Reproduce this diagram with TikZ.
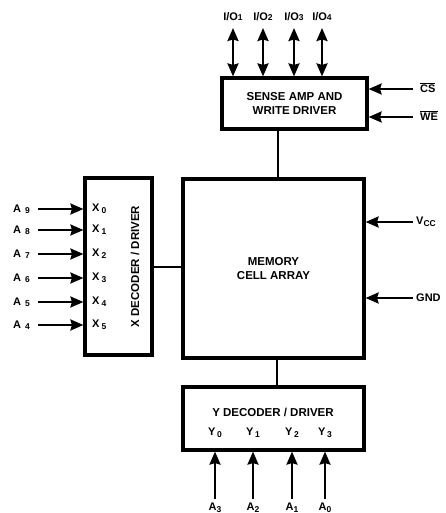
\documentclass[tikz,border=0pt]{standalone}
\usepackage{fontspec}
\setmainfont{Liberation Sans}
\usetikzlibrary{arrows.meta}
\newcommand{\ovl}[1]{\vbox{\hrule height 0.9pt\kern1.3pt\hbox{#1}}}
\newcommand{\sbs}[2][-1.5pt]{\raisebox{#1}{\fontsize{8.5}{9}\selectfont #2}}
\begin{document}
\begin{tikzpicture}[x=1pt,y=-1pt,
  box/.style={draw, line width=3.2pt, inner sep=0pt, align=center, font=\bfseries\fontsize{11.5}{13.5}\selectfont},
  arr/.style={line width=2.2pt, -{Stealth[length=13pt,width=11pt,inset=1.5pt]}},
  darr/.style={line width=2.2pt, {Stealth[length=13pt,width=11pt,inset=1.5pt]}-{Stealth[length=13pt,width=11pt,inset=1.5pt]}},
  conn/.style={line width=1.8pt},
  lbl/.style={inner sep=0pt, font=\bfseries\fontsize{11}{12}\selectfont}]
\useasboundingbox (0,0) rectangle (445,513);

% boxes
\node[box, minimum width=145pt, minimum height=51pt] (sense) at (294.5,103.5) {SENSE AMP AND\\WRITE DRIVER};
\node[box, minimum width=181pt, minimum height=179pt] (mem) at (273.5,268.5) {MEMORY\\CELL ARRAY};
\node[box, minimum width=67pt, minimum height=177pt] (xdec) at (118.5,266.5) {};
\node[box, minimum width=181pt, minimum height=63pt] (ydec) at (273.5,418.5) {};
\node[inner sep=0pt, rotate=90, font=\bfseries\fontsize{11.5}{13}\selectfont] (xdect) at (135,266.5) {X DECODER / DRIVER};
\node[inner sep=0pt, font=\bfseries\fontsize{11.5}{13}\selectfont] (ydect) at (273,412) {Y DECODER / DRIVER};

% connections between blocks
\draw[conn] (sense.south -| 278,0) -- (mem.north -| 278,0);
\draw[conn] (mem.south -| 277,0) -- (ydec.north -| 277,0);
\draw[conn] (xdec.east |- 0,267) -- (mem.west |- 0,267);

% I/O lines
\foreach \x/\n in {233/1,263/2,294/3,322/4}{
  \coordinate (io\n) at (\x,28);
  \node[lbl, anchor=south] (iol\n) at (\x,21) {I/O\sbs[-0.5pt]{\n}};
  \draw[darr] (io\n) -- (io\n |- sense.north);
}

% CS, WE
\coordinate (cs) at (413,89);
\coordinate (we) at (413,117);
\node[lbl, anchor=west] (csl) at (420,88) {\ovl{CS}};
\node[lbl, anchor=west] (wel) at (420,116) {\ovl{WE}};
\draw[arr] (cs) -- (cs -| sense.east);
\draw[arr] (we) -- (we -| sense.east);

% Vcc, GND
\coordinate (vcc) at (413,222);
\coordinate (gnd) at (413,298);
\node[lbl, anchor=west] (vccl) at (416,222) {V\sbs[-2pt]{CC}};
\node[lbl, anchor=west] (gndl) at (416,298) {GND};
\draw[arr] (vcc) -- (vcc -| mem.east);
\draw[arr] (gnd) -- (gnd -| mem.east);

% X inputs
\foreach \y/\a/\i in {209/9/0,230/8/1,254/7/2,278/6/3,302/5/4,325/4/5}{
  \coordinate (xa\i) at (38,\y);
  \node[lbl, anchor=west] (al\i) at (13,\y) {A\hspace{4pt}\sbs[-1pt]{\a}};
  \node[lbl, anchor=west] (xl\i) at (92,\y) {X\hspace{2pt}\sbs[-2pt]{\i}};
  \draw[arr] (xa\i) -- (xa\i -| xdec.west);
}

% Y inputs
\foreach \x/\i/\a in {215/0/3,253/1/2,292/2/1,325/3/0}{
  \coordinate (ya\i) at (\x,499);
  \node[lbl] (yl\i) at (\x,433) {Y\hspace{1.5pt}\sbs[-2pt]{\i}};
  \node[lbl, anchor=south] (ayl\i) at (\x,512.5) {A\sbs[-1.5pt]{\a}};
  \draw[arr] (ya\i) -- (ya\i |- ydec.south);
}
\end{tikzpicture}
\end{document}
